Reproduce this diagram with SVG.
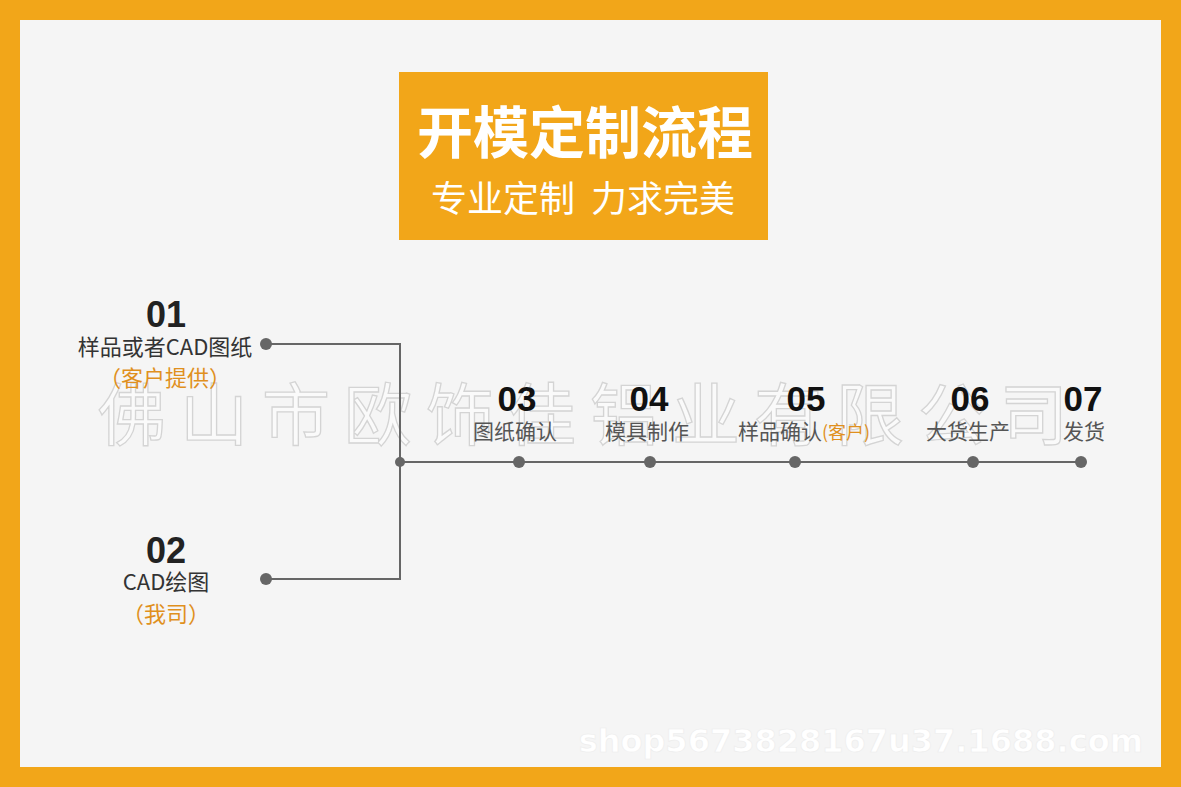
<svg xmlns="http://www.w3.org/2000/svg" width="1181" height="787" viewBox="0 0 1181 787">
<style>
.cjk{font-family:"Noto Sans CJK SC","Liberation Sans",sans-serif}
.num{font-family:"Liberation Sans",Arial,sans-serif;font-weight:bold;fill:#222;text-anchor:middle;font-size:36px}
.numn{font-family:"Liberation Sans Narrow","Liberation Sans",sans-serif;font-weight:bold;fill:#111;text-anchor:middle;font-size:35px}
.lbl{font-family:"Noto Sans CJK SC",sans-serif;font-size:22px;fill:#333;text-anchor:middle}
.lbl2{font-family:"Noto Sans CJK SC",sans-serif;font-size:21px;fill:#555;text-anchor:middle}
.or{fill:#E0901E}
.ln{stroke:#666;stroke-width:2;fill:none}
.dot{fill:#666}
</style>
<rect x="0" y="0" width="1181" height="787" fill="#F2A619"/>
<rect x="20" y="20" width="1141" height="747" fill="#F5F5F5"/>
<text x="590" y="440" class="cjk" font-size="68" fill="#FAFAFA" stroke="#D4D4D4" stroke-width="1.3" text-anchor="middle" letter-spacing="14">佛山市欧饰佳铝业有限公司</text>
<g id="title">
<rect x="399" y="72" width="369" height="168" fill="#F2A619"/>
<text x="585" y="153" class="cjk" font-size="56" font-weight="bold" fill="#FFFFFF" text-anchor="middle">开模定制流程</text>
<text x="583" y="212" class="cjk" font-size="36" fill="#FFFFFF" text-anchor="middle" xml:space="preserve">专业定制  力求完美</text>
</g>
<g id="connectors">
<polyline class="ln" points="266,344 400,344 400,579 266,579"/>
<line class="ln" x1="400" y1="462" x2="1081" y2="462"/>
</g>
<g id="n01">
<text x="166" y="327" class="num">01</text>
<text x="165" y="355" class="lbl">样品或者CAD图纸</text>
<text x="165" y="386" class="lbl or">（客户提供）</text>
<circle class="dot" cx="266" cy="344" r="6"/>
</g>
<g id="n02">
<text x="166" y="563" class="num">02</text>
<text x="166" y="590" class="lbl">CAD绘图</text>
<text x="166" y="622" class="lbl or">（我司）</text>
<circle class="dot" cx="266" cy="579" r="6"/>
</g>
<circle class="dot" cx="400" cy="462" r="5"/>
<g id="n03">
<text x="517" y="411" class="numn">03</text>
<text x="515" y="439" class="lbl2">图纸确认</text>
<circle class="dot" cx="519" cy="462" r="6"/>
</g>
<g id="n04">
<text x="649" y="411" class="numn">04</text>
<text x="647" y="439" class="lbl2">模具制作</text>
<circle class="dot" cx="650" cy="462" r="6"/>
</g>
<g id="n05">
<text x="806" y="411" class="numn">05</text>
<text x="804" y="439" class="lbl2">样品确认<tspan class="or" font-size="18">(客户)</tspan></text>
<circle class="dot" cx="795" cy="462" r="6"/>
</g>
<g id="n06">
<text x="970" y="411" class="numn">06</text>
<text x="968" y="439" class="lbl2">大货生产</text>
<circle class="dot" cx="973" cy="462" r="6"/>
</g>
<g id="n07">
<text x="1083" y="411" class="numn">07</text>
<text x="1084" y="439" class="lbl2">发货</text>
<circle class="dot" cx="1081" cy="462" r="6"/>
</g>
<text x="1143" y="752" font-family="DejaVu Sans,sans-serif" font-size="32" font-weight="bold" fill="#FFFFFF" stroke="#ECECEC" stroke-width="0.6" text-anchor="end">shop5673828167u37.1688.com</text>
</svg>
